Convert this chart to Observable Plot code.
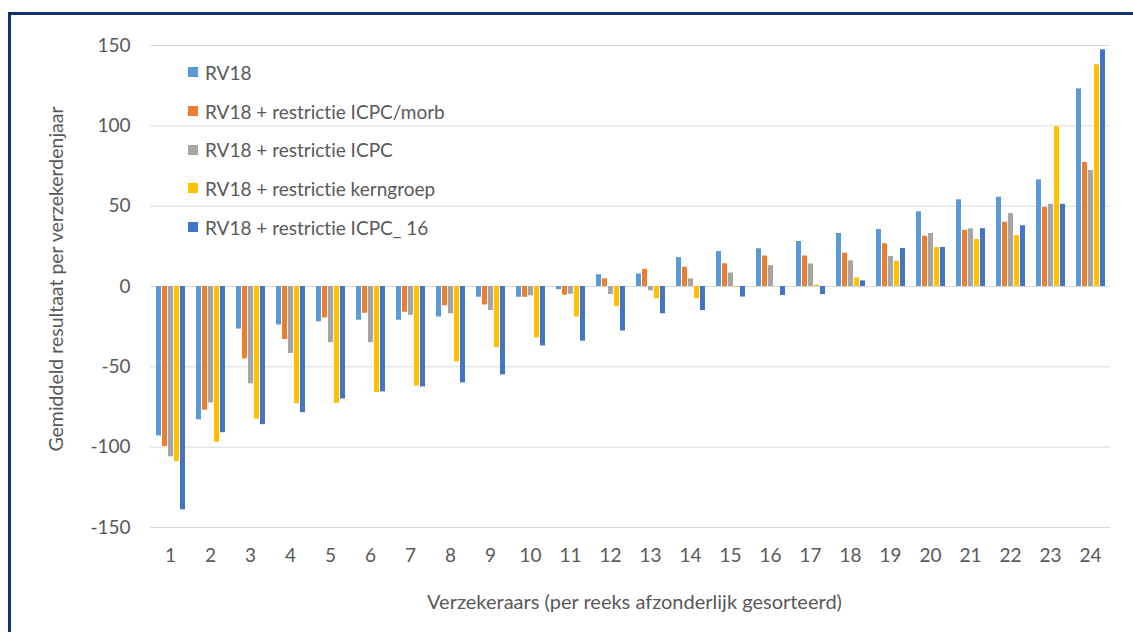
<!DOCTYPE html>
<html>
<head>
<meta charset="utf-8">
<script src="https://cdn.jsdelivr.net/npm/d3@7"></script>
<script src="https://cdn.jsdelivr.net/npm/@observablehq/plot@0.6"></script>
<style>
  html, body { margin: 0; padding: 0; background: #fff; }
  body { width: 1133px; height: 632px; overflow: hidden; position: relative; font-family: Lato, "Open Sans", sans-serif; color: #595959; font-variant-ligatures: none; }
  svg, svg text { font-variant-ligatures: none; }
  #frame { position: absolute; left: 8px; top: 12px; width: 1300px; height: 800px; border-left: 3px solid #12306e; border-top: 3px solid #12306e; }
  #chart { position: absolute; left: 0; top: 0; }
  #legend { position: absolute; left: 188px; top: 53px; font-size: 19px; }
  #legend .row { height: 38.7px; display: flex; align-items: center; white-space: nowrap; }
  #legend .sw { width: 10px; height: 10px; margin-right: 7px; display: inline-block; }
  #xlabel { position: absolute; left: 147px; width: 975px; top: 589px; text-align: center; font-size: 20px; }
  #ylabel { position: absolute; left: 55px; top: 279px; font-size: 19.5px; white-space: nowrap; transform: translate(-50%, -50%) rotate(-90deg); }
</style>
</head>
<body>
<div id="frame"></div>
<div id="chart"></div>
<div id="legend"></div>
<div id="xlabel">Verzekeraars (per reeks afzonderlijk gesorteerd)</div>
<div id="ylabel">Gemiddeld resultaat per verzekerdenjaar</div>
<script>
const verzekeraars = ["1","2","3","4","5","6","7","8","9","10","11","12","13","14","15","16","17","18","19","20","21","22","23","24"];
const seriesNames = ["RV18", "RV18 + restrictie ICPC/morb", "RV18 + restrictie ICPC", "RV18 + restrictie kerngroep", "RV18 + restrictie ICPC_ 16"];
const seriesColors = ["#5B9BD5", "#ED7D31", "#A5A5A5", "#FFC000", "#4472C4"];

const rv18      = [-93, -83, -26.5, -24, -22, -21, -21, -19, -6.7, -6.7, -2, 7.3, 7.8, 18, 21.8, 23.5, 28, 33, 35.5, 46.5, 54, 55.6, 66.4, 123];
const icpcMorb  = [-99.6, -77, -45, -33, -19.6, -16.7, -16, -12, -11.5, -6.7, -5.4, 4.8, 10.7, 12, 14.2, 19, 19, 20.8, 26.6, 31.3, 35, 40, 49.2, 77.2];
const icpc      = [-106, -72.5, -60.6, -41.7, -35, -35, -18, -17, -15, -5.8, -4.8, -5, -2.7, 4.7, 8.4, 13, 14, 16, 18.7, 33, 35.9, 45.4, 51.2, 72.2];
const kerngroep = [-109, -97, -82.5, -73, -72.7, -66, -62, -47, -38, -32, -19, -12.5, -7.6, -7.6, -0.4, 0, 0.8, 5.3, 15.6, 24.3, 29.3, 31.7, 99.4, 138];
const icpc16    = [-139, -91, -86, -78.5, -70, -65.6, -62.5, -60, -55, -37, -34, -27.7, -17, -15, -6.6, -5.6, -5, 3.5, 23.7, 24.3, 36, 37.8, 51.2, 147.3];

const yTicks = [-150, -100, -50, 0, 50, 100, 150];

const seriesValues = [rv18, icpcMorb, icpc, kerngroep, icpc16];
const data = verzekeraars.flatMap((c, i) =>
  seriesNames.map((s, j) => ({cat: c, series: s, value: seriesValues[j][i]}))
);

const chart = Plot.plot({
  width: 1133,
  height: 632,
  marginLeft: 147,
  marginRight: 21,
  marginTop: 45,
  marginBottom: 105,
  style: {fontFamily: "Lato, 'Open Sans', sans-serif", fontSize: "19px", color: "#595959", background: "transparent"},
  fx: {domain: verzekeraars, padding: 0, label: null},
  x: {domain: seriesNames, paddingInner: 0.24, paddingOuter: 0.86, axis: null},
  y: {domain: [-150, 150], label: null},
  color: {domain: seriesNames, range: seriesColors},
  marks: [
    Plot.gridY(yTicks, {stroke: "#d9d9d9", strokeOpacity: 1, strokeWidth: 1}),
    Plot.barY(data, {fx: "cat", x: "series", y: "value", fill: "series"}),
    Plot.axisY(yTicks, {tickSize: 0, tickPadding: 20, label: null, fontSize: 19, tickFormat: d => String(d)}),
    Plot.axisFx({anchor: "bottom", tickSize: 0, tickPadding: 21, label: null, fontSize: 19})
  ]
});
document.getElementById("chart").appendChild(chart);

const legend = document.getElementById("legend");
seriesNames.forEach((s, j) => {
  const row = document.createElement("div");
  row.className = "row";
  const sw = document.createElement("span");
  sw.className = "sw";
  sw.style.background = seriesColors[j];
  row.appendChild(sw);
  row.appendChild(document.createTextNode(s));
  legend.appendChild(row);
});
</script>
</body>
</html>
